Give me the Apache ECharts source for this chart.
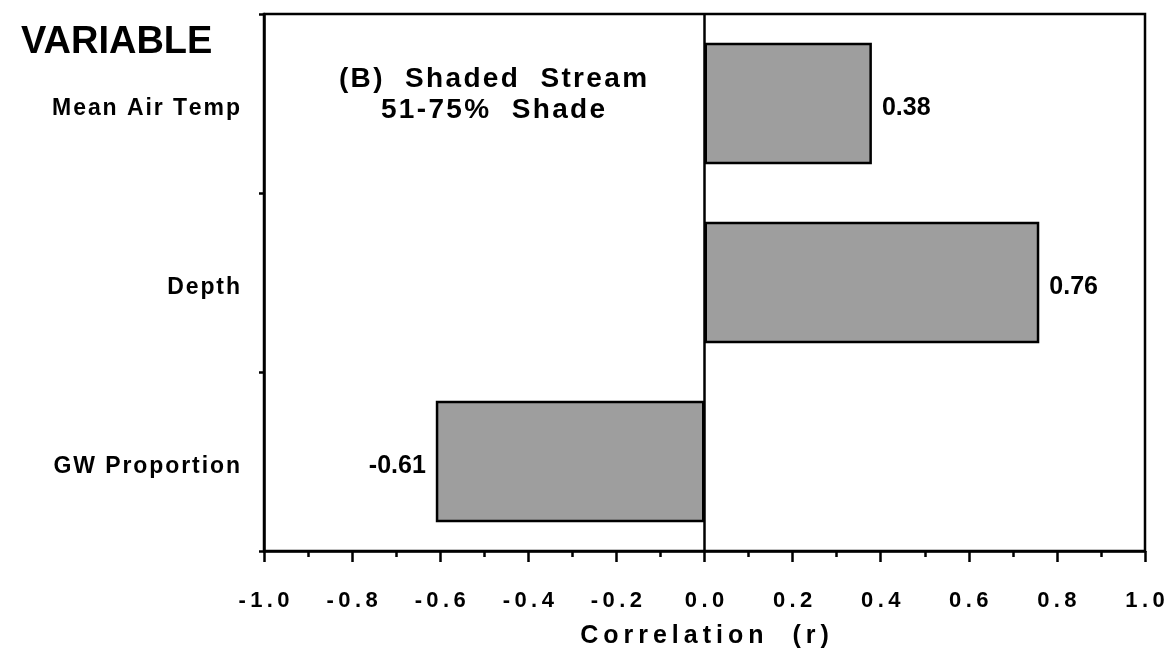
<!DOCTYPE html>
<html>
<head>
<meta charset="utf-8">
<script src="https://cdn.jsdelivr.net/npm/echarts@6/dist/echarts.min.js"></script>
<style>
html,body{margin:0;padding:0;background:#fff;}
#chart{width:1176px;height:657px;}
</style>
</head>
<body>
<div id="chart"></div>
<script>
const categories = ['Mean Air Temp', 'Depth', 'GW Proportion'];
const correlations = [0.38, 0.76, -0.61];
const xTicks = { min: -1.0, max: 1.0, interval: 0.2 };
const titleLines = ['(B)  Shaded  Stream', '51-75%  Shade'];
const yAxisTitle = 'VARIABLE';
const xAxisTitle = 'Correlation  (r)';

const FONT = '"Liberation Sans", Arial, Helvetica, sans-serif';
function sp(s, ch) { return String(s).split('').join(ch || '\u200A'); }

const chart = echarts.init(document.getElementById('chart'), null, { renderer: 'canvas' });

const barData = correlations.map(v => ({
  value: v,
  label: { position: v < 0 ? 'left' : 'right' }
}));

chart.setOption({
  backgroundColor: '#fff',
  animation: false,
  textStyle: { fontFamily: FONT },
  title: [
    { text: yAxisTitle, left: 16, top: 19, textStyle: { fontSize: 38, fontWeight: 'bold', color: '#000', fontFamily: FONT } },
    { text: titleLines.map(t => sp(t)).join('\n'), left: 488, top: 59, textAlign: 'center',
      textStyle: { fontSize: 28, fontWeight: 'bold', color: '#000', lineHeight: 31, fontFamily: FONT, align: 'center' } }
  ],
  grid: { left: 264, right: 31, top: 14, bottom: 106, show: true, borderColor: '#000', borderWidth: 2.5, backgroundColor: 'transparent' },
  xAxis: {
    type: 'value',
    min: xTicks.min, max: xTicks.max, interval: xTicks.interval,
    name: sp(xAxisTitle, '\u2009'),
    nameLocation: 'middle', nameGap: 73,
    nameTextStyle: { fontSize: 25, fontWeight: 'bold', color: '#000', fontFamily: FONT },
    axisLine: { show: true, onZero: false, lineStyle: { color: '#000', width: 2.5 } },
    axisTick: { show: true, length: 11, lineStyle: { color: '#000', width: 2.5 } },
    minorTick: { show: true, splitNumber: 2, length: 6, lineStyle: { color: '#000', width: 2.5 } },
    splitLine: { show: false },
    axisLabel: { margin: 39, fontSize: 22, fontWeight: 'bold', color: '#000', fontFamily: FONT,
      formatter: v => sp(v.toFixed(1), '\u2009') }
  },
  yAxis: {
    type: 'category',
    data: categories,
    inverse: true,
    axisLine: { show: true, onZero: false, lineStyle: { color: '#000', width: 2.5 } },
    axisTick: { show: true, length: 5, lineStyle: { color: '#000', width: 2.5 } },
    splitLine: { show: false },
    axisLabel: { margin: 24, color: '#000', fontFamily: FONT,
      formatter: v => '{c|' + sp(v, '\u200A') + '}',
      rich: { c: { fontSize: 23, fontWeight: 'bold', color: '#000', fontFamily: FONT, padding: [10, 0, 0, 0] } } }
  },
  series: [{
    type: 'bar',
    data: barData,
    barWidth: '68%',
    itemStyle: { color: '#9e9e9e', borderColor: '#000', borderWidth: 2.5 },
    label: { show: true, distance: 10, offset: [0, 5], fontSize: 25, fontWeight: 'bold', color: '#000', fontFamily: FONT,
      formatter: p => p.value.toFixed(2) },
    markLine: {
      silent: true, symbol: 'none',
      label: { show: false },
      lineStyle: { color: '#000', width: 2.5, type: 'solid' },
      data: [{ xAxis: 0 }]
    }
  }]
});
</script>
</body>
</html>
